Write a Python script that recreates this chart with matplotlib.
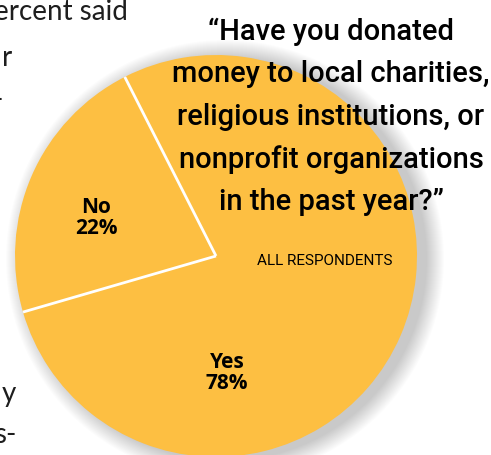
import numpy as np
import matplotlib.pyplot as plt
from matplotlib.patches import Circle

# survey answers
answers = ["No", "Yes"]
shares = [22, 78]

question = [
    "\u201cHave you donated",
    "money to local charities,",
    "religious institutions, or",
    "nonprofit organizations",
    "in the past year?\u201d",
]
subtitle = "ALL RESPONDENTS"

# bits of the neighbouring article column
side_top = ["ercent said", "r", "-"]
side_bottom = ["y", "s-"]

W, H = 491, 456
pie_color = "#FDBF42"

fig = plt.figure(figsize=(W / 100, H / 100), dpi=100)
ax = fig.add_axes([0, 0, 1, 1])

cx, cy, r = 216, 199, 201

# soft shadow behind the pie
for k in range(18):
    ax.add_patch(Circle((cx + 9, cy - 3), r + 18 - k, color="black",
                        alpha=0.011, lw=0, zorder=0))

wedges, _ = ax.pie(shares, startangle=117, center=(cx, cy), radius=r,
                   colors=[pie_color, pie_color],
                   wedgeprops=dict(linewidth=0))

# white dividers between the slices
for w in wedges:
    w.set_zorder(1)
    t = np.deg2rad(w.theta1)
    ax.plot([cx, cx + r * np.cos(t)], [cy, cy + r * np.sin(t)],
            color="white", lw=2, solid_capstyle="butt", zorder=2)

ax.set_xlim(0, W)
ax.set_ylim(0, H)
ax.set_aspect("equal")
ax.axis("off")

ax.text(96, H - 218, f"{answers[0]}\n{shares[0]}%", ha="center", va="center",
        fontsize=15, fontweight="bold", family="Open Sans", linespacing=1.05,
        zorder=3)
ax.text(227, H - 373, f"{answers[1]}\n{shares[1]}%", ha="center", va="center",
        fontsize=15, fontweight="bold", family="Open Sans", linespacing=1.05,
        zorder=3)

for i, line in enumerate(question):
    ax.text(331, H - (40 + 42.5 * i), line, ha="center", va="baseline",
            fontsize=21, family="Roboto", fontweight="medium", color="black",
            zorder=3)

ax.text(325, H - 265, subtitle, ha="center", va="baseline",
        fontsize=11, family="Roboto", color="black", zorder=3)

side_kw = dict(ha="right", va="baseline", fontsize=20, family="Lato",
               color="#1e1e1e", zorder=3)
ax.text(128, H - 20, side_top[0], **side_kw)
ax.text(12, H - 66, side_top[1], **side_kw)
ax.text(3, H - 108, side_top[2], **side_kw)
ax.text(16, H - 402, side_bottom[0], **side_kw)
ax.text(16, H - 443, side_bottom[1], **side_kw)

fig.savefig("out.png", dpi=100)
